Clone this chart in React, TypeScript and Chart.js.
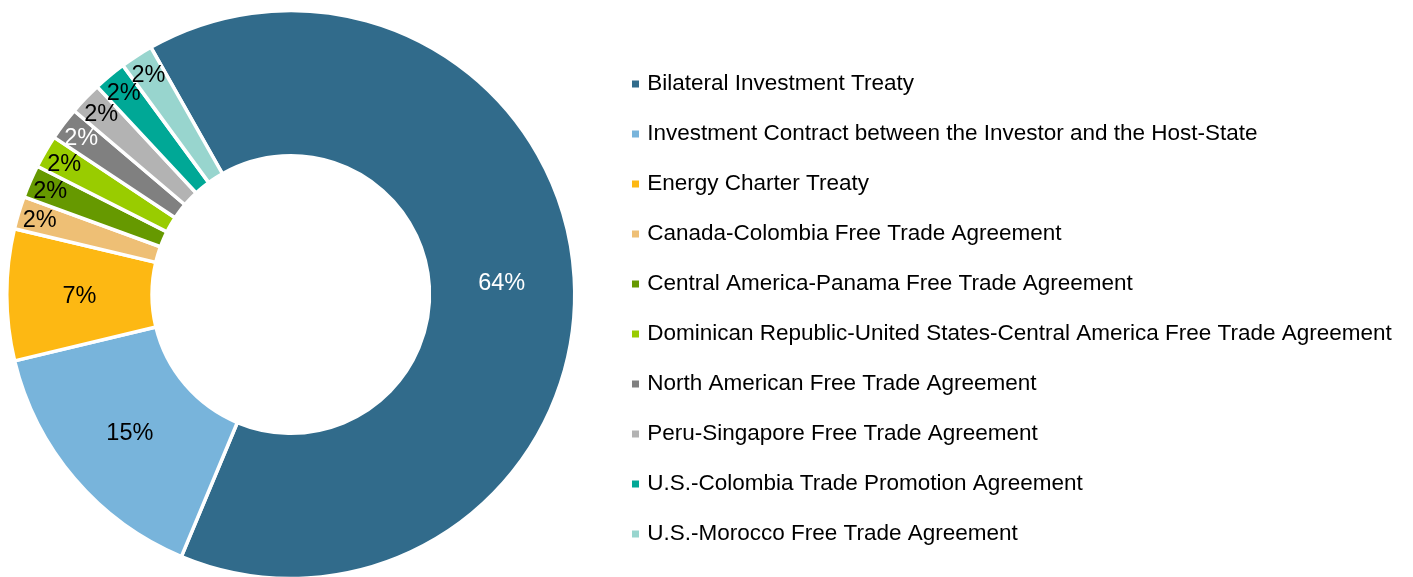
import React, { useEffect, useRef } from 'react';
import { Chart, registerables } from 'chart.js';

Chart.register(...registerables);

const categories = [
  'Bilateral Investment Treaty',
  'Investment Contract between the Investor and the Host-State',
  'Energy Charter Treaty',
  'Canada-Colombia Free Trade Agreement',
  'Central America-Panama Free Trade Agreement',
  'Dominican Republic-United States-Central America Free Trade Agreement',
  'North American Free Trade Agreement',
  'Peru-Singapore Free Trade Agreement',
  'U.S.-Colombia Trade Promotion Agreement',
  'U.S.-Morocco Free Trade Agreement',
];

// Estimated case counts (slice angles; labels show the rounded shares)
const counts = [69, 16, 8, 2, 2, 2, 2, 2, 2, 2];

const sliceColors = [
  '#316B8B',
  '#78B4DB',
  '#FDB813',
  '#EEBF75',
  '#669900',
  '#99CC00',
  '#808080',
  '#B3B3B3',
  '#00A896',
  '#98D5CE',
];

const labelColors = ['#ffffff', '#000000', '#000000', '#000000', '#000000', '#000000', '#ffffff', '#000000', '#000000', '#000000'];

const FONT = '"Liberation Sans", Arial, Helvetica, sans-serif';

const sliceLabelPlugin = {
  id: 'sliceLabels',
  afterDatasetsDraw(chart: any) {
    const meta = chart.getDatasetMeta(0);
    const data = chart.data.datasets[0].data as number[];
    const total = data.reduce((a, b) => a + b, 0);
    const ctx = chart.ctx;
    ctx.save();
    ctx.font = `23.5px ${FONT}`;
    ctx.textAlign = 'center';
    ctx.textBaseline = 'middle';
    meta.data.forEach((arc: any, i: number) => {
      const { x, y, startAngle, endAngle, innerRadius, outerRadius } = arc.getProps(
        ['x', 'y', 'startAngle', 'endAngle', 'innerRadius', 'outerRadius'],
        true
      );
      const pct = Math.round((data[i] / total) * 100);
      const mid = (startAngle + endAngle) / 2;
      const frac = pct >= 5 ? 0.5 : 0.85;
      const r = innerRadius + frac * (outerRadius - innerRadius);
      ctx.fillStyle = labelColors[i];
      ctx.fillText(`${pct}%`, x + Math.cos(mid) * r, y + Math.sin(mid) * r + 1.5);
    });
    ctx.restore();
  },
};

export default function App() {
  const ref = useRef<HTMLCanvasElement | null>(null);

  useEffect(() => {
    if (!ref.current) return;
    const chart = new Chart(ref.current, {
      type: 'doughnut',
      data: {
        labels: categories,
        datasets: [
          {
            data: counts,
            backgroundColor: sliceColors,
            borderColor: '#ffffff',
            borderWidth: 3.5,
            hoverOffset: 0,
          },
        ],
      },
      options: {
        responsive: false,
        animation: false,
        rotation: -29.5,
        radius: 284,
        cutout: 143,
        layout: { padding: { left: 0, right: 15.5, top: 0, bottom: 0 } },
        plugins: {
          tooltip: { enabled: false },
          legend: {
            position: 'right',
            maxWidth: 790,
            title: {
              display: true,
              text: ' ',
              color: 'rgba(0,0,0,0)',
              font: { size: 29, lineHeight: 1 },
              padding: 0,
            },
            labels: {
              usePointStyle: true,
              pointStyle: 'rect',
              boxWidth: 1,
              boxHeight: 7,
              padding: 27.5,
              color: '#000000',
              font: { size: 22.5, family: FONT },
              generateLabels: (c: any) =>
                (Chart as any).overrides.doughnut.plugins.legend.labels
                  .generateLabels(c)
                  .map((l: any) => ({ ...l, lineWidth: 0 })),
            },
          },
        },
      } as any,
      plugins: [sliceLabelPlugin],
    });
    return () => chart.destroy();
  }, []);

  return (
    <div
      style={{
        position: 'fixed',
        left: 0,
        top: 0,
        width: 1413,
        height: 577,
        overflow: 'hidden',
        background: '#ffffff',
      }}
    >
      <canvas
        ref={ref}
        width={1439}
        height={589}
        style={{ position: 'absolute', left: -26, top: 0, width: 1439, height: 589, display: 'block' }}
      />
    </div>
  );
}
